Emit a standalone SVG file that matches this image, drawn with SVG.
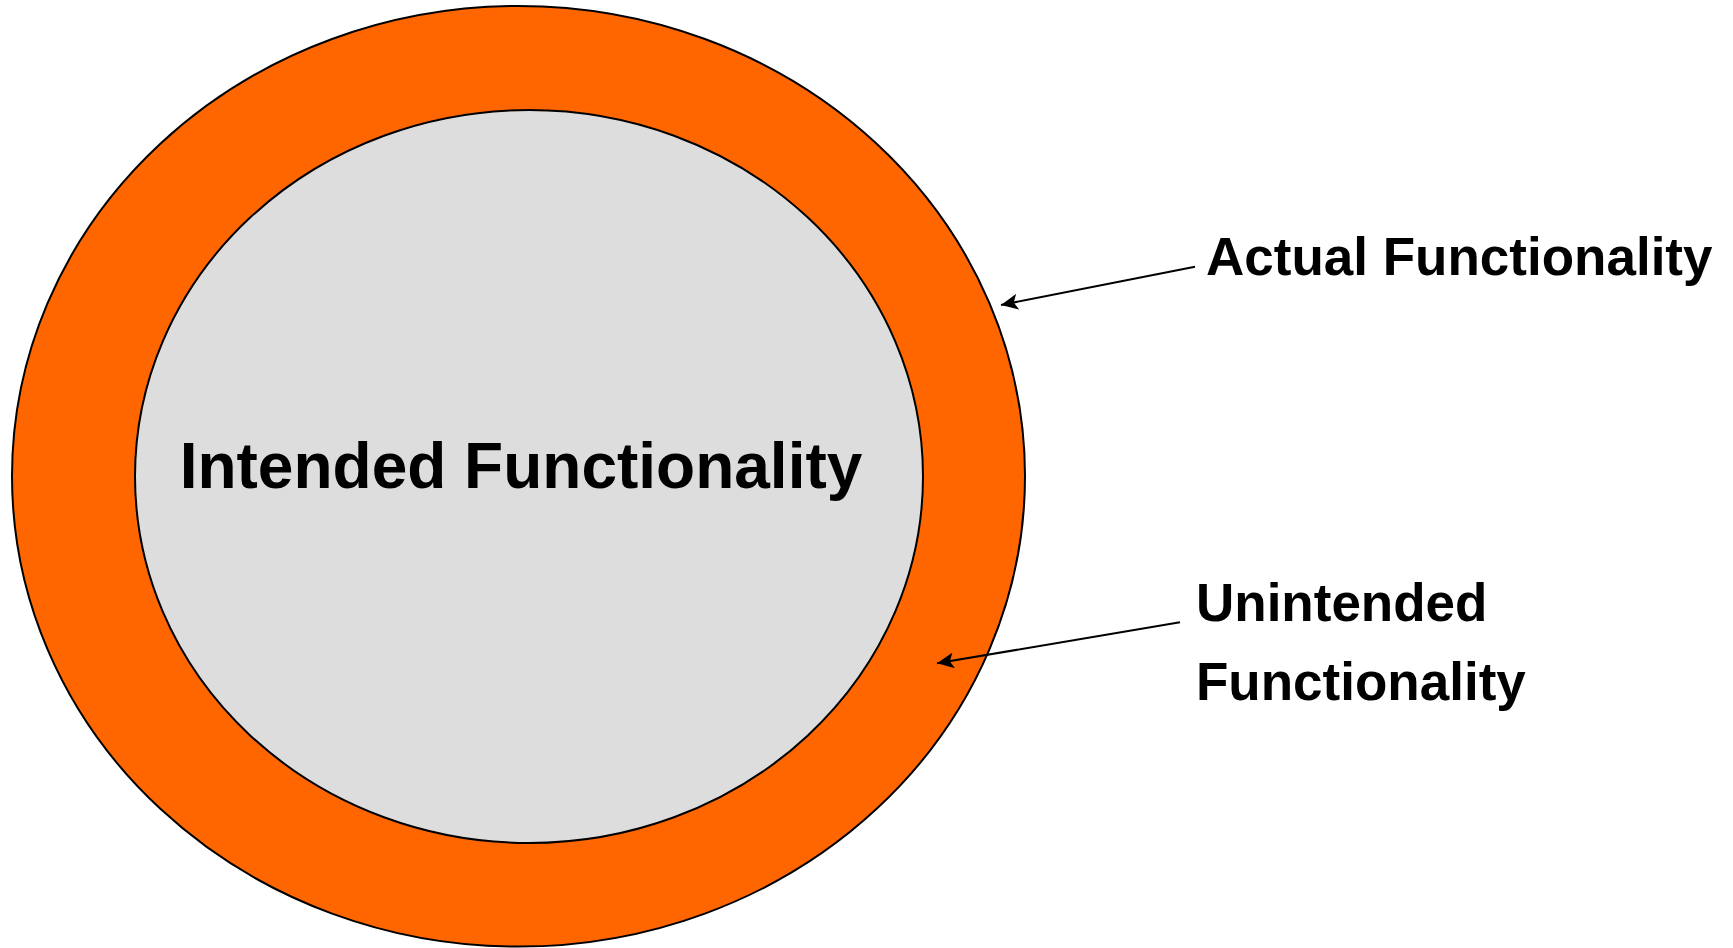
<svg xmlns="http://www.w3.org/2000/svg" width="1733" height="948" viewBox="0 0 1733 948">
  <style>
    .label { font-family: "Liberation Sans", Arial, sans-serif; font-weight: bold; fill: #000; }
    .ring { stroke: #000; stroke-width: 2; }
    .leader { stroke: #000; stroke-width: 2; fill: none; marker-end: url(#arrowhead); }
  </style>
  <defs>
    <marker id="arrowhead" markerUnits="userSpaceOnUse" markerWidth="18" markerHeight="16" refX="17" refY="8" orient="auto">
      <path d="M0,0 L17,8 L0,16 L4,8 Z" fill="#000"/>
    </marker>
  </defs>
  <rect width="1733" height="948" fill="#fff"/>

  <g id="actual-functionality">
    <ellipse class="ring" cx="518.5" cy="476.3" rx="506.5" ry="470.3" fill="#FF6600"/>
  </g>

  <g id="intended-functionality">
    <ellipse class="ring" cx="529" cy="476.5" rx="394" ry="366.5" fill="#DDDDDD"/>
    <text class="label" x="521" y="488" font-size="64" text-anchor="middle">Intended Functionality</text>
  </g>

  <g id="label-actual">
    <text class="label" x="1206" y="274.5" font-size="53">Actual Functionality</text>
  </g>

  <g id="label-unintended">
    <text class="label" x="1196" y="621" font-size="53">Unintended</text>
    <text class="label" x="1196" y="700" font-size="53">Functionality</text>
  </g>

  <g id="connectors">
    <line class="leader" x1="1195" y1="266.7" x2="1001" y2="305"/>
    <line class="leader" x1="1180" y1="622.3" x2="937" y2="663.3"/>
  </g>
</svg>
